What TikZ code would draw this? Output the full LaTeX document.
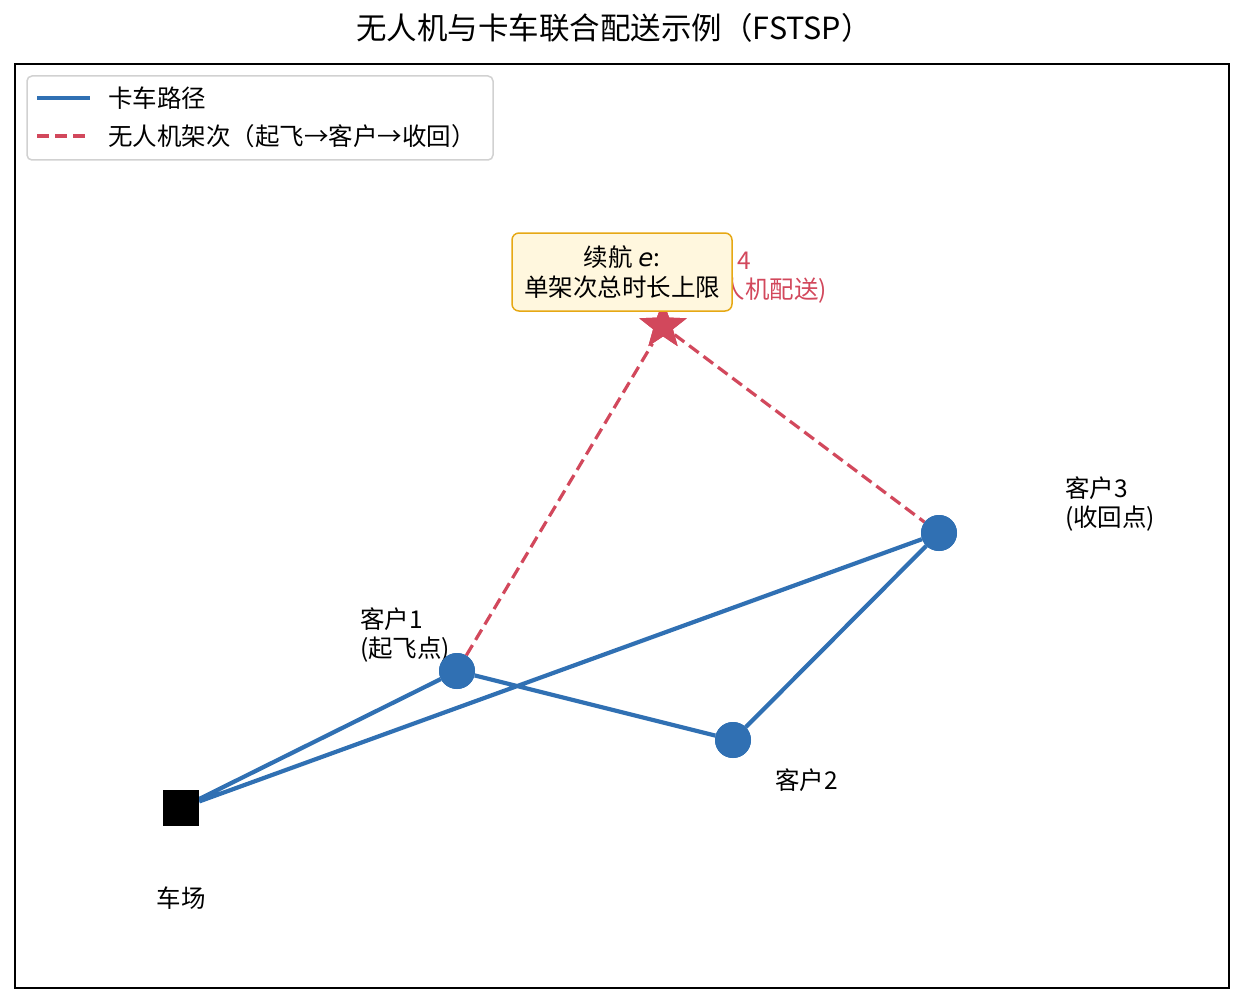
\documentclass[tikz,border=0pt]{standalone}
\usepackage{fontspec}
\setmainfont{Noto Sans CJK SC}
\newfontfamily\latinsans{DejaVu Sans}
\usetikzlibrary{shapes.geometric}
\definecolor{truckblue}{RGB}{48,112,179}
\definecolor{dronered}{RGB}{210,72,92}
\definecolor{notefill}{RGB}{255,247,222}
\definecolor{noteedge}{RGB}{230,168,20}
\newcommand{\lbl}{\fontsize{24.5}{29.5}\selectfont}
\begin{document}
\begin{tikzpicture}[x=1pt,y=-1pt,
	customer/.style={circle, fill=truckblue, inner sep=0pt, minimum size=36pt},
	depot/.style={rectangle, fill=black, inner sep=0pt, minimum size=36pt},
	target/.style={star, star points=5, star point ratio=2.4, fill=dronered, inner sep=0pt, minimum size=50pt},
	truck/.style={truckblue, line width=4.2pt},
	drone/.style={dronered, line width=3.2pt, dash pattern=on 12pt off 6pt},
	txt/.style={font=\lbl, inner sep=0pt, align=left},
	note/.style={draw=noteedge, fill=notefill, line width=1.5pt, rounded corners=7pt, minimum width=220pt, minimum height=78pt, align=center, font=\lbl, inner sep=2pt},
]
	\useasboundingbox (0,0) rectangle (1244,1003);
	\node[font=\fontsize{30.5}{36}\selectfont] (title) at (614,28) {无人机与卡车联合配送示例（FSTSP）};
	\draw[line width=1.4pt] (15,64) rectangle (1229,988);

	\node[depot] (D) at (181,808) {}; \node[txt] (Dl) at (181,898) {车场};
	\node[customer] (C1) at (457,671) {}; \node[txt, anchor=west] (C1l) at (360,635) {客户1\\(起飞点)};
	\node[customer] (C2) at (733,740) {}; \node[txt, anchor=west] (C2l) at (775,780) {客户2};
	\node[customer] (C3) at (939,533) {}; \node[txt, anchor=west] (C3l) at (1065,504) {客户3\\(收回点)};
	\node[target] (C4) at (663,326) {};

	% truck tour
	\draw[truck] (D) -- (C1) -- (C2) -- (C3) -- (D);
	% drone sortie
	\draw[drone] (C1) -- (C4) -- (C3);
	\node[customer] at (C1) {}; \node[customer] at (C2) {}; \node[customer] at (C3) {};
	\node[depot] at (D) {}; \node[target] at (C4) {};

	\node[txt, dronered, anchor=west] (C4l) at (688,276) {客户4\\(无人机配送)};
	\node[note] (N) at (622,272) {续航 {\latinsans\itshape e}:\\单架次总时长上限};

	% legend
	\draw[draw=black!18, fill=white, line width=1.5pt, rounded corners=5pt] (27,76) rectangle (493,160);
	\coordinate (L1a) at (37,98); \coordinate (L1b) at (90,98);
	\coordinate (L2a) at (37,136); \coordinate (L2b) at (90,136);
	\draw[truck] (L1a) -- (L1b);
	\draw[drone] (L2a) -- (L2b);
	\node[txt, anchor=west] (L1) at (108,98) {卡车路径};
	\node[txt, anchor=west] (L2) at (108,136) {无人机架次（起飞→客户→收回）};
\end{tikzpicture}
\end{document}
